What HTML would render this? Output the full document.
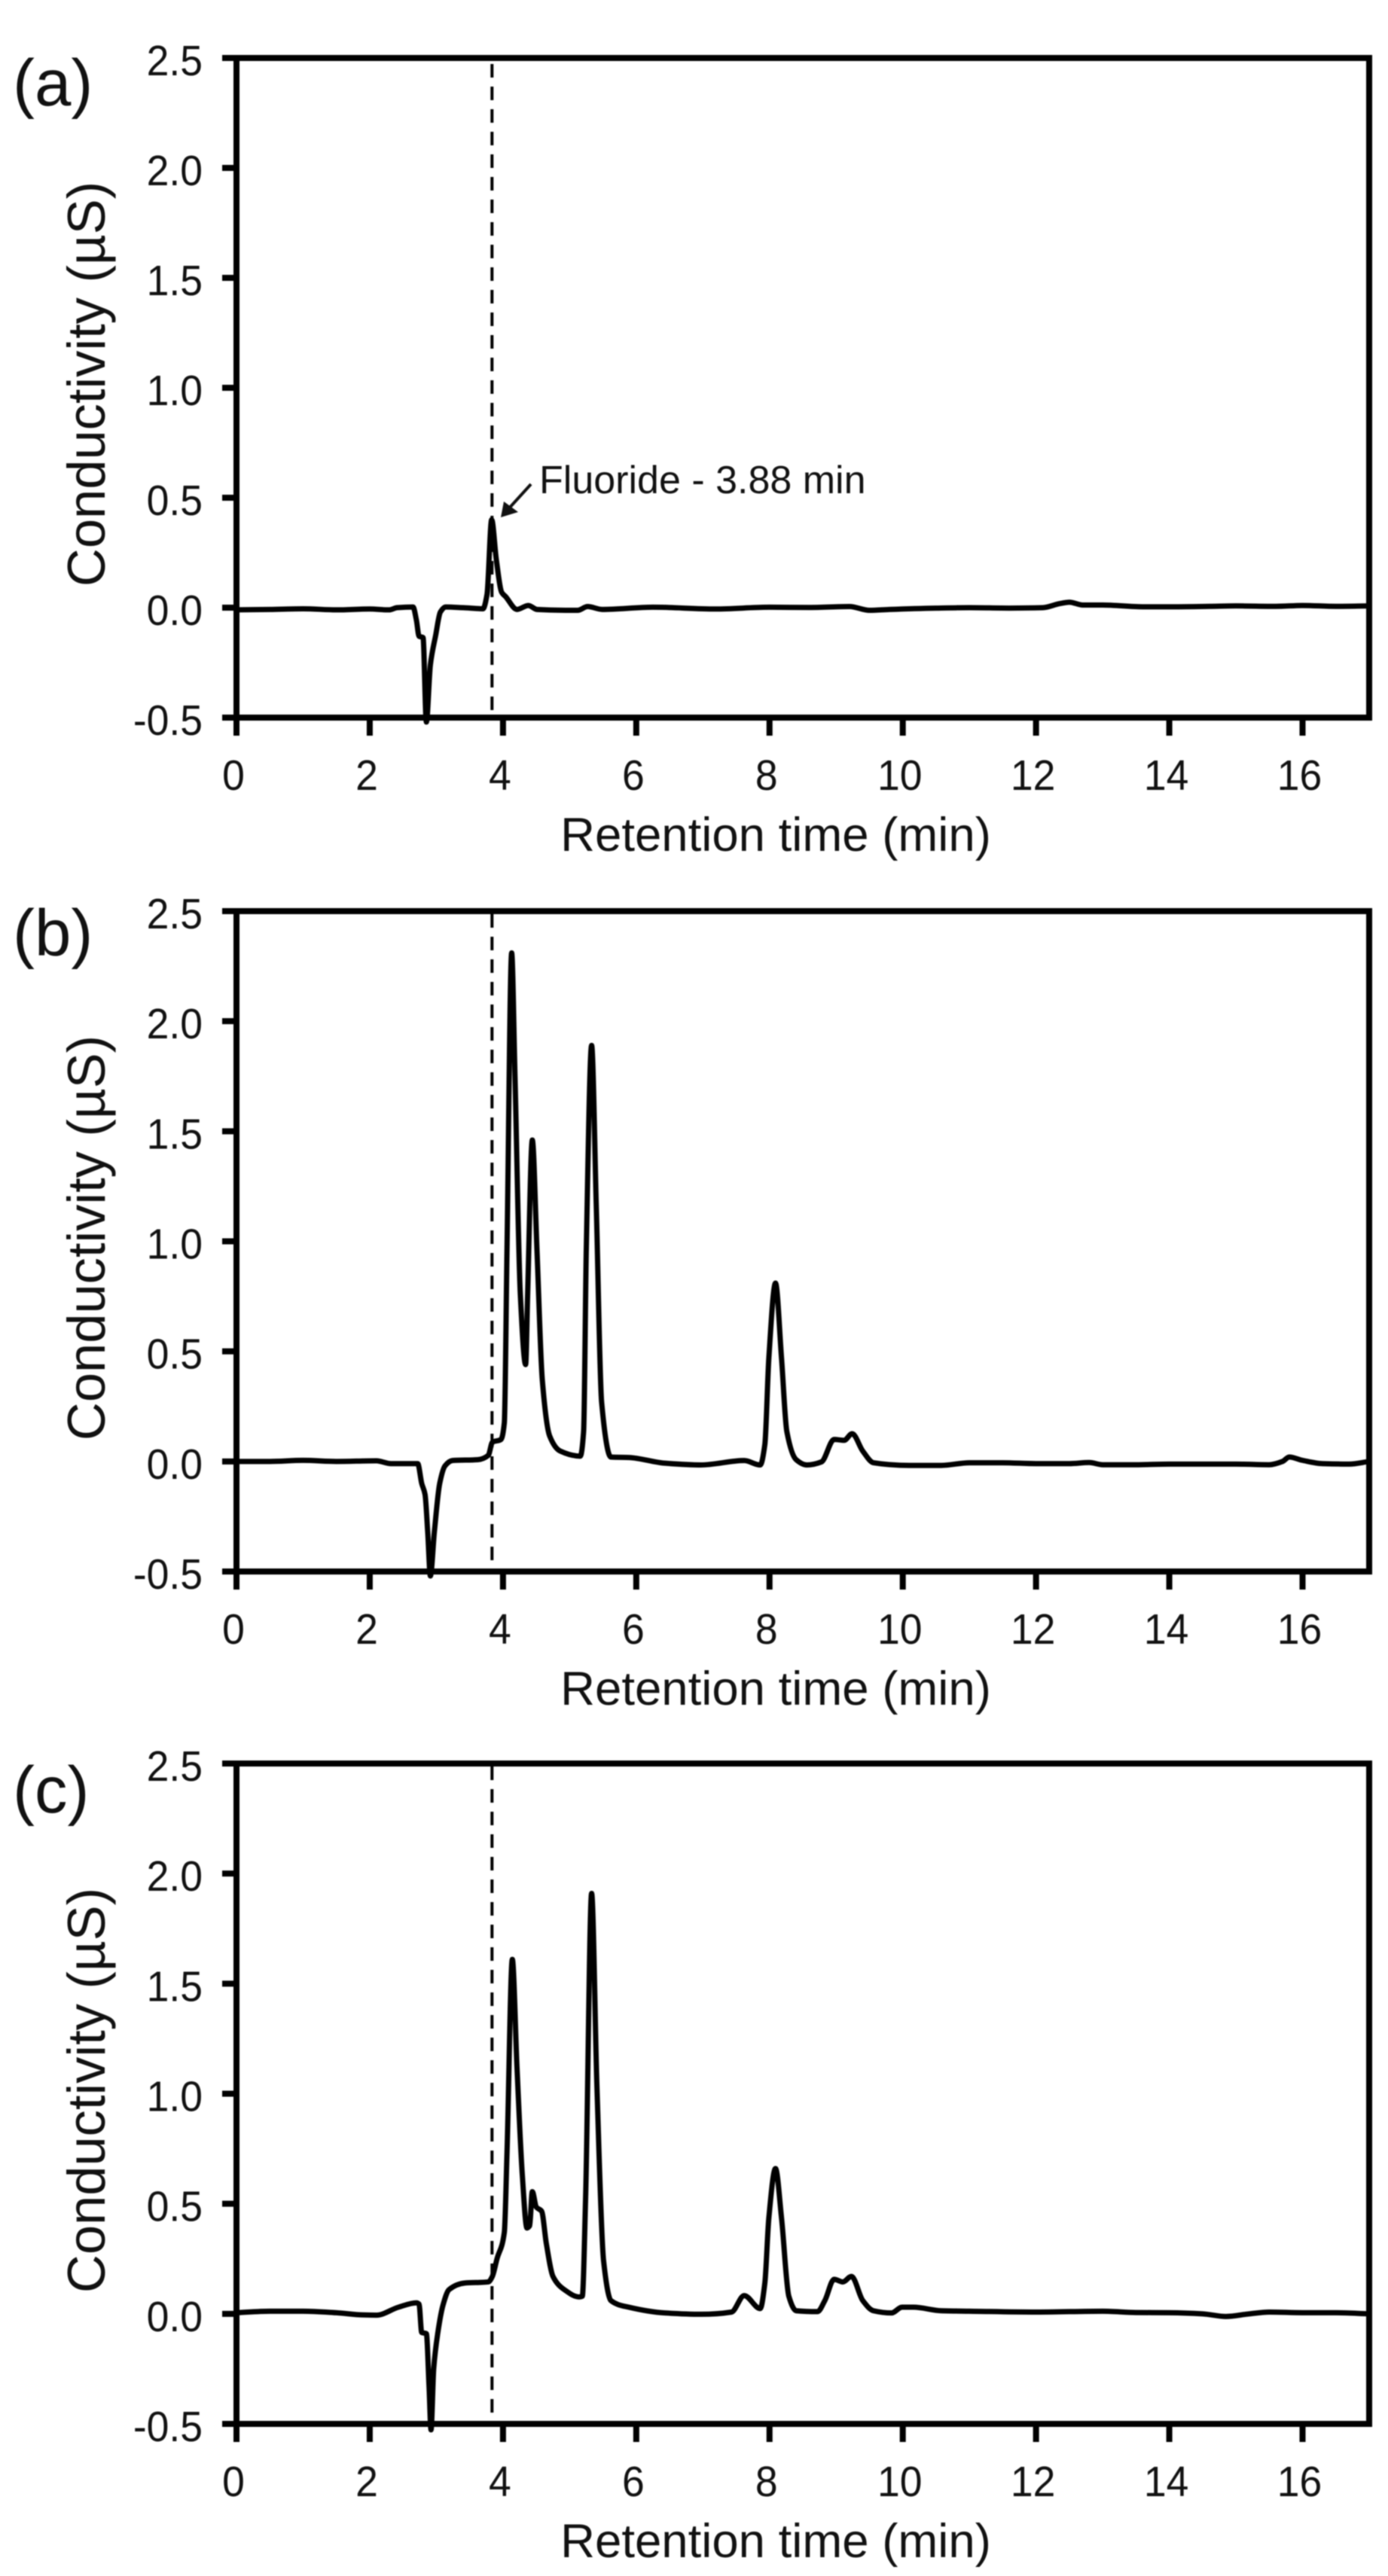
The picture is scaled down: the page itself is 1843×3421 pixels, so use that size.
<!DOCTYPE html>
<html lang="en">
<head>
<meta charset="utf-8">
<title>Conductivity chromatograms</title>
<style>
  html, body { margin: 0; padding: 0; background: #fff; }
  body { width: 1843px; height: 3421px; overflow: hidden; }
  svg { display: block; filter: blur(0.7px); }
  text { font-family: "Liberation Sans", Arial, sans-serif; fill: #111; }
  .panel-label { font-size: 87px; }
  .x-title { font-size: 63.5px; text-anchor: middle; }
  .y-title { font-size: 70.5px; text-anchor: middle; }
  .tick { font-size: 53.5px; }
  .note { font-size: 52px; }
</style>
</head>
<body>
<svg id="figure" xmlns="http://www.w3.org/2000/svg" width="1843" height="3421" viewBox="0 0 1843 3421">
  <rect width="1843" height="3421" fill="#fff"/>

  <g id="panel-a">
    <text class="panel-label" x="17" y="140">(a)</text>
    <text class="x-title" x="1030" y="1130">Retention time (min)</text>
    <text class="y-title" transform="translate(139 510) rotate(-90)">Conductivity (µS)</text>
    <text class="note" x="716" y="655">Fluoride - 3.88 min</text>
    <line x1="705" y1="643" x2="675" y2="676" stroke="#111" stroke-width="4"/>
    <polygon points="665,687 669,666 688,680" fill="#111"/>
  </g>

  <g id="panel-b">
    <text class="panel-label" x="17" y="1269">(b)</text>
    <text class="x-title" x="1030" y="2264">Retention time (min)</text>
    <text class="y-title" transform="translate(139 1644) rotate(-90)">Conductivity (µS)</text>
  </g>

  <g id="panel-c">
    <text class="panel-label" x="17" y="2407">(c)</text>
    <text class="x-title" x="1030" y="3396">Retention time (min)</text>
    <text class="y-title" transform="translate(139 2776) rotate(-90)">Conductivity (µS)</text>
  </g>
</svg>

<script>
// Axis values
const xTicks = [0, 2, 4, 6, 8, 10, 12, 14, 16];
const xTickLabels = ["0", "2", "4", "6", "8", "10", "12", "14", "16"];
const yTicks = [-0.5, 0, 0.5, 1, 1.5, 2, 2.5];
const yTickLabels = ["-0.5", "0.0", "0.5", "1.0", "1.5", "2.0", "2.5"];
const xDomain = [0, 17];
const yDomain = [-0.5, 2.5];
const referenceTime = 3.835;

// Panel (a)
const timesA = [0,0.5,1,1.5,2,2.29,2.41,2.65,2.70,2.74,2.80,2.85,2.91,2.99,3.06,3.14,3.40,3.70,3.76,3.83,3.90,3.98,4.04,4.21,4.38,4.51,5.12,5.27,5.49,6.25,7.19,8,8.6,9.2,9.5,9.8,10.5,11,11.6,12.1,12.35,12.5,12.7,13,13.6,14,14.6,15,15.6,16,16.5,17];
const signalA = [-0.01,-0.008,-0.005,-0.01,-0.006,-0.01,0,0.003,-0.056,-0.13,-0.136,-0.52,-0.26,-0.125,-0.02,0.003,0,-0.005,0.06,0.40,0.218,0.07,0.05,-0.008,0.01,-0.008,-0.012,0.005,-0.008,0.002,-0.006,0.002,0.001,0.005,-0.012,-0.008,-0.002,0,-0.002,0,0.018,0.025,0.012,0.012,0.004,0.004,0.006,0.008,0.006,0.01,0.006,0.008];

// Panel (b)
const timesB = [0,0.5,1,1.5,2.1,2.32,2.72,2.78,2.83,2.87,2.91,2.97,3.05,3.13,3.24,3.62,3.78,3.84,3.97,4.02,4.06,4.13,4.18,4.26,4.34,4.37,4.44,4.51,4.59,4.70,4.86,5.16,5.21,5.25,5.33,5.40,5.48,5.62,5.89,6.43,6.97,7.62,7.86,7.93,7.99,8.09,8.18,8.26,8.40,8.56,8.78,8.97,9.12,9.24,9.40,9.56,10.1,10.58,11,11.5,12,12.5,12.8,13,13.5,14,14.5,15,15.5,15.7,15.8,16,16.3,16.7,17];
const signalB = [0,0,0.005,0,0.003,-0.01,-0.01,-0.1,-0.15,-0.32,-0.52,-0.32,-0.1,-0.02,0.004,0.008,0.028,0.087,0.10,0.175,0.96,2.31,1.75,0.76,0.44,0.76,1.46,0.96,0.37,0.116,0.047,0.024,0.136,0.96,1.89,1.16,0.27,0.02,0.018,-0.008,-0.016,0.004,-0.016,0.077,0.47,0.81,0.47,0.136,0.008,-0.016,-0.002,0.10,0.096,0.126,0.047,-0.006,-0.018,-0.018,-0.006,-0.006,-0.01,-0.01,-0.005,-0.015,-0.015,-0.012,-0.012,-0.012,-0.015,0,0.02,0.005,-0.01,-0.012,0];

// Panel (c)
const timesC = [0,0.5,1,1.5,1.9,2.1,2.43,2.70,2.74,2.78,2.85,2.89,2.92,2.96,3.02,3.10,3.19,3.43,3.78,3.84,3.91,4.02,4.06,4.14,4.21,4.29,4.36,4.40,4.44,4.50,4.58,4.65,4.75,4.92,5.14,5.19,5.24,5.33,5.41,5.51,5.62,5.89,6.43,6.97,7.43,7.62,7.86,7.93,7.99,8.09,8.18,8.29,8.40,8.72,8.83,8.97,9.10,9.23,9.40,9.56,9.83,9.99,10.16,10.58,11,12,13,13.5,14,14.5,14.85,15.2,15.5,16,16.5,17];
const signalC = [0.005,0.012,0.012,0.005,-0.005,-0.006,0.03,0.05,0.044,-0.085,-0.09,-0.33,-0.527,-0.25,-0.09,0.04,0.11,0.14,0.145,0.17,0.25,0.37,0.73,1.61,1.12,0.63,0.39,0.40,0.555,0.485,0.466,0.32,0.17,0.11,0.077,0.08,0.53,1.91,1.03,0.24,0.06,0.03,0.004,-0.002,0.008,0.083,0.024,0.14,0.436,0.66,0.436,0.08,0.014,0.01,0.06,0.157,0.145,0.17,0.06,0.014,0.004,0.03,0.03,0.014,0.012,0.008,0.012,0.006,0.005,0,-0.012,0,0.008,0.005,0.005,0];

// Plot boxes
const plotLeft = 314;
const plotRight = 1818;
const panelA = { id: "panel-a", top: 77, bottom: 953, times: timesA, signal: signalA, dashOffset: 26 };
const panelB = { id: "panel-b", top: 1210, bottom: 2087, times: timesB, signal: signalB, dashOffset: 0 };
const panelC = { id: "panel-c", top: 2342, bottom: 3219, times: timesC, signal: signalC, dashOffset: 0 };

const NS = "http://www.w3.org/2000/svg";

function xScale(v) {
  return plotLeft + (v - xDomain[0]) / (xDomain[1] - xDomain[0]) * (plotRight - plotLeft);
}
function yScale(panel, v) {
  return panel.bottom - (v - yDomain[0]) / (yDomain[1] - yDomain[0]) * (panel.bottom - panel.top);
}
function drawLine(parent, x1, y1, x2, y2, width) {
  const el = document.createElementNS(NS, "line");
  el.setAttribute("x1", x1);
  el.setAttribute("y1", y1);
  el.setAttribute("x2", x2);
  el.setAttribute("y2", y2);
  el.setAttribute("stroke", "#000");
  el.setAttribute("stroke-width", width);
  parent.appendChild(el);
  return el;
}
function drawText(parent, x, y, anchor, content) {
  const el = document.createElementNS(NS, "text");
  el.setAttribute("class", "tick");
  el.setAttribute("transform", "translate(" + x + " " + y + ") scale(1 1.06)");
  el.setAttribute("text-anchor", anchor);
  el.textContent = content;
  parent.appendChild(el);
  return el;
}
// Monotone cubic path through the points, so peaks stay rounded without overshoot
function monotonePath(xs, ys) {
  const n = xs.length;
  const secants = [];
  for (let i = 0; i < n - 1; i++) {
    secants.push((ys[i + 1] - ys[i]) / (xs[i + 1] - xs[i]));
  }
  const slopes = [secants[0]];
  for (let i = 1; i < n - 1; i++) {
    if (secants[i - 1] * secants[i] <= 0) {
      slopes.push(0);
    } else {
      const h0 = xs[i] - xs[i - 1];
      const h1 = xs[i + 1] - xs[i];
      const w0 = 2 * h1 + h0;
      const w1 = h1 + 2 * h0;
      slopes.push((w0 + w1) / (w0 / secants[i - 1] + w1 / secants[i]));
    }
  }
  slopes.push(secants[n - 2]);
  let d = "M" + xs[0].toFixed(2) + " " + ys[0].toFixed(2);
  for (let i = 0; i < n - 1; i++) {
    const h = (xs[i + 1] - xs[i]) / 3;
    d += "C" + (xs[i] + h).toFixed(2) + " " + (ys[i] + slopes[i] * h).toFixed(2) +
         " " + (xs[i + 1] - h).toFixed(2) + " " + (ys[i + 1] - slopes[i + 1] * h).toFixed(2) +
         " " + xs[i + 1].toFixed(2) + " " + ys[i + 1].toFixed(2);
  }
  return d;
}

function drawPanel(panel) {
  const g = document.getElementById(panel.id);

  yTicks.forEach(function (tick, i) {
    const y = yScale(panel, tick);
    const mark = drawLine(g, 295, y, plotLeft, y, 8);
    
    
    const label = drawText(g, 269, y + 23, "end", yTickLabels[i]);
    
    
  });

  xTicks.forEach(function (tick, i) {
    const x = xScale(tick);
    const mark = drawLine(g, x, panel.bottom, x, panel.bottom + 24, 8);
    
    
    const label = drawText(g, x - 4, panel.bottom + 96, "middle", xTickLabels[i]);
    
    
  });

  const frame = document.createElementNS(NS, "rect");
  
  
  frame.setAttribute("x", plotLeft);
  frame.setAttribute("y", panel.top);
  frame.setAttribute("width", plotRight - plotLeft);
  frame.setAttribute("height", panel.bottom - panel.top);
  frame.setAttribute("fill", "none");
  frame.setAttribute("stroke", "#000");
  frame.setAttribute("stroke-width", 8);
  g.appendChild(frame);

  const ref = drawLine(g, xScale(referenceTime), panel.top + 4, xScale(referenceTime), panel.bottom - 4, 4);
  
  
  ref.setAttribute("stroke-dasharray", "18 12");
  ref.setAttribute("stroke-dashoffset", panel.dashOffset);

  const trace = document.createElementNS(NS, "path");
  
  
  const px = panel.times.map(xScale);
  const py = panel.signal.map(function (v) { return yScale(panel, v); });
  trace.setAttribute("d", monotonePath(px, py));
  trace.setAttribute("fill", "none");
  trace.setAttribute("stroke", "#000");
  trace.setAttribute("stroke-width", 7);
  trace.setAttribute("stroke-linejoin", "round");
  trace.setAttribute("stroke-linecap", "butt");
  g.appendChild(trace);
}

drawPanel(panelA);
drawPanel(panelB);
drawPanel(panelC);
</script>
</body>
</html>
